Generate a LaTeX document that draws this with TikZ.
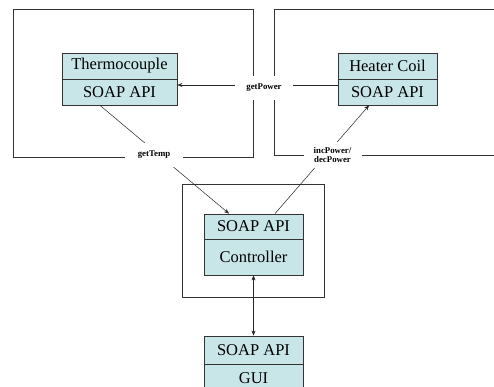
\documentclass[tikz,border=0pt]{standalone}
\usepackage{fontspec}
\setmainfont{Liberation Serif}
\usetikzlibrary{arrows.meta,calc}
\definecolor{cellfill}{HTML}{C8E6E8}
\definecolor{edgegray}{HTML}{333333}
\tikzset{
  cell/.style={draw=edgegray, line width=0.8pt, fill=cellfill, inner sep=0pt,
    font=\fontsize{16.5}{18}\selectfont},
  container/.style={draw=edgegray, line width=0.9pt},
  conn/.style={draw=black!85, line width=0.5pt},
  tip/.style={-{Stealth[length=5pt,width=4pt]}},
  lbl/.style={fill=white, inner sep=0pt, minimum width=58pt, minimum height=24pt,
    align=center, font=\fontsize{8.8}{9.8}\selectfont\bfseries}
}
\begin{document}
\begin{tikzpicture}[x=1pt,y=-1pt]
\clip (0,0) rectangle (494,387);
\fill[white] (0,0) rectangle (494,387);
% containers
\draw[container] (13,9) rectangle (253,157);
\draw[container] (500,9) -- (274,9) -- (274,155) -- (500,155);
\draw[container] (182,184) rectangle (324,297);
% Thermocouple
\node[cell, minimum width=115pt, minimum height=26pt] (th1) at (119.5,66) {Thermocouple};
\node[cell, minimum width=115pt, minimum height=26pt] (th2) at (119.5,92) {SOAP API};
% Heater coil
\node[cell, minimum width=99pt, minimum height=26pt] (hc1) at (387.5,66) {Heater Coil};
\node[cell, minimum width=99pt, minimum height=26pt] (hc2) at (387.5,92) {SOAP API};
% Controller
\node[cell, minimum width=99pt, minimum height=25pt] (c1) at (253.5,226.5) {SOAP API};
\node[cell, minimum width=99pt, minimum height=36pt] (c2) at (253.5,257) {Controller};
% GUI
\node[cell, minimum width=99pt, minimum height=28pt] (g1) at (253.5,350) {SOAP API};
\node[cell, minimum width=99pt, minimum height=28pt] (g2) at (253.5,378) {GUI};
% connectors
\draw[conn, tip] ([yshift=7pt]hc2.west) -- ([yshift=7pt]th2.east);
\draw[conn, tip] ([xshift=-19.5pt]th2.south) -- ([xshift=-24.5pt]c1.north);
\draw[conn, tip] ([xshift=21.5pt]c1.north) -- ([xshift=-18.5pt]hc2.south);
\draw[conn, {Stealth[length=5pt,width=4pt]}-{Stealth[length=5pt,width=4pt]}] (c2.south) -- (g1.north);
% labels
\node[lbl] (lpow) at (264,88) {getPower};
\node[lbl] (ltemp) at (154,155) {getTemp};
\node[lbl, minimum height=26pt] (linc) at (332.5,155) {incPower/\\decPower};
\end{tikzpicture}
\end{document}
